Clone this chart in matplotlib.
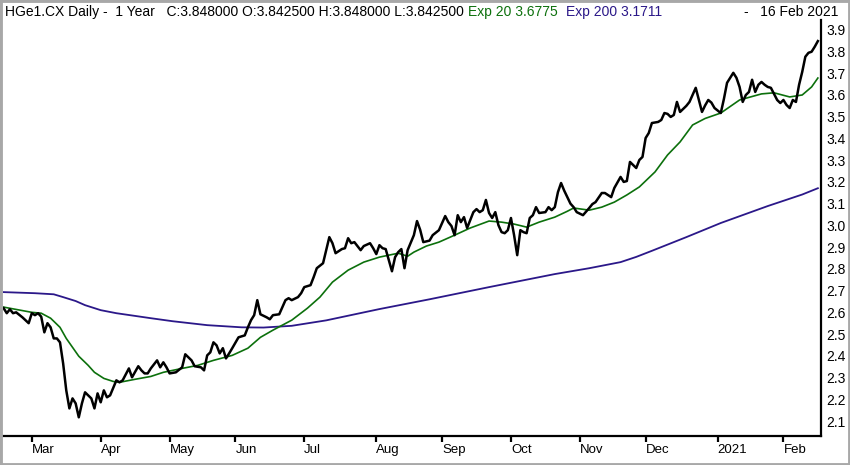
import pandas as pd
import matplotlib
matplotlib.use("Agg")
import matplotlib.pyplot as plt
from matplotlib.patches import Rectangle

# trading days shown on the chart (1 year ending 16 Feb 2021)
start_date = "2020-02-18"
end_date = "2021-02-16"

# daily close (day = trading-day number from start)
close_day = [0, 1, 2, 3, 4, 6, 8, 9, 10, 11,
             12, 13, 14, 15, 16, 17, 18, 19, 20, 21,
             22, 23, 24, 25, 26, 28, 29, 30, 31, 32,
             33, 34, 36, 37, 38, 40, 41, 43, 44, 45,
             46, 47, 49, 50, 51, 52, 53, 55, 57, 58,
             60, 61, 63, 64, 65, 66, 67, 68, 69, 70,
             71, 72, 73, 75, 77, 78, 79, 80, 81, 82,
             84, 85, 86, 88, 89, 90, 91, 92, 94, 95,
             96, 98, 99, 100, 102, 103, 104, 105, 106, 108,
             109, 110, 111, 112, 114, 115, 117, 118, 119, 120,
             121, 122, 124, 125, 126, 127, 128, 129, 131, 132,
             133, 134, 136, 137, 139, 141, 142, 143, 144, 145,
             146, 147, 148, 150, 151, 152, 153, 154, 155, 156,
             157, 158, 159, 160, 161, 162, 163, 164, 165, 166,
             167, 168, 169, 170, 171, 173, 174, 175, 176, 177,
             178, 179, 181, 182, 183, 185, 187, 188, 189, 191,
             192, 194, 195, 197, 198, 199, 200, 202, 203, 204,
             205, 206, 207, 209, 210, 211, 212, 213, 214, 215,
             216, 217, 218, 219, 221, 222, 223, 224, 225, 226,
             227, 229, 230, 231, 232, 233, 234, 235, 236, 237,
             238, 239, 240, 241, 242, 243, 244, 245, 247, 248,
             249, 250, 251, 252, 253, 254, 255, 256, 257, 258,
             259, 260]
close_px = [2.619, 2.596, 2.614, 2.596, 2.600, 2.577, 2.550, 2.596, 2.587, 2.596,
            2.580, 2.508, 2.550, 2.531, 2.480, 2.480, 2.462, 2.365, 2.241, 2.158,
            2.204, 2.181, 2.117, 2.181, 2.232, 2.204, 2.158, 2.227, 2.186, 2.241,
            2.209, 2.218, 2.287, 2.278, 2.287, 2.342, 2.301, 2.352, 2.333, 2.319,
            2.319, 2.342, 2.379, 2.347, 2.370, 2.347, 2.319, 2.324, 2.347, 2.407,
            2.379, 2.352, 2.347, 2.333, 2.402, 2.416, 2.462, 2.448, 2.411, 2.435,
            2.388, 2.411, 2.435, 2.485, 2.494, 2.531, 2.564, 2.587, 2.656, 2.591,
            2.577, 2.568, 2.587, 2.591, 2.624, 2.656, 2.665, 2.656, 2.670, 2.688,
            2.716, 2.725, 2.762, 2.803, 2.826, 2.886, 2.946, 2.918, 2.872, 2.891,
            2.895, 2.941, 2.918, 2.923, 2.886, 2.905, 2.918, 2.895, 2.868, 2.909,
            2.895, 2.891, 2.789, 2.854, 2.877, 2.891, 2.803, 2.886, 2.955, 3.020,
            2.980, 2.923, 2.930, 2.955, 2.978, 3.043, 3.015, 2.997, 2.955, 3.047,
            3.015, 3.038, 2.988, 3.061, 3.075, 3.061, 3.070, 3.117, 3.057, 3.034,
            3.061, 3.001, 2.969, 2.964, 2.978, 3.034, 2.955, 2.863, 2.978, 2.969,
            2.964, 3.034, 3.047, 3.084, 3.057, 3.061, 3.084, 3.070, 3.084, 3.153,
            3.195, 3.160, 3.100, 3.084, 3.061, 3.047, 3.080, 3.098, 3.107, 3.149,
            3.149, 3.130, 3.172, 3.223, 3.200, 3.204, 3.292, 3.264, 3.301, 3.315,
            3.402, 3.425, 3.471, 3.476, 3.485, 3.517, 3.513, 3.499, 3.508, 3.568,
            3.522, 3.536, 3.550, 3.568, 3.633, 3.577, 3.522, 3.552, 3.577, 3.565,
            3.540, 3.517, 3.582, 3.656, 3.679, 3.702, 3.679, 3.637, 3.568, 3.600,
            3.614, 3.670, 3.614, 3.647, 3.660, 3.647, 3.637, 3.633, 3.577, 3.563,
            3.577, 3.554, 3.540, 3.577, 3.568, 3.647, 3.706, 3.776, 3.794, 3.799,
            3.822, 3.848]

# Exp 20 (green)
ema20_day = [0, 9, 12, 15, 18, 20, 22, 24, 27, 29, 32, 35, 37, 42, 47, 51, 57, 62,
             67, 73, 78, 82, 86, 92, 97, 101, 105, 110, 115, 120, 126, 129, 131,
             135, 139, 144, 149, 155, 159, 163, 167, 171, 176, 180, 182, 187, 191,
             195, 199, 203, 208, 212, 216, 220, 224, 229, 235, 242, 246, 251, 255,
             258, 260]
ema20_px = [2.624, 2.600, 2.596, 2.573, 2.531, 2.480, 2.439, 2.398, 2.356, 2.324,
            2.296, 2.282, 2.278, 2.292, 2.305, 2.324, 2.342, 2.356, 2.379, 2.402,
            2.435, 2.485, 2.518, 2.564, 2.619, 2.670, 2.739, 2.794, 2.831, 2.854,
            2.872, 2.858, 2.877, 2.905, 2.923, 2.955, 2.988, 3.020, 3.015, 3.006,
            2.992, 3.015, 3.038, 3.065, 3.080, 3.070, 3.084, 3.107, 3.140, 3.177,
            3.246, 3.324, 3.384, 3.462, 3.492, 3.517, 3.577, 3.605, 3.610, 3.591,
            3.600, 3.637, 3.678]

# Exp 200 (purple)
ema200_day = [0, 10, 16, 19, 23, 26, 31, 36, 47, 54, 65, 76, 83, 92, 103, 120,
              136, 155, 176, 187, 197, 202, 207, 218, 229, 244, 255, 260]
ema200_px = [2.693, 2.688, 2.683, 2.670, 2.652, 2.633, 2.610, 2.596, 2.573, 2.559,
             2.541, 2.531, 2.530, 2.538, 2.563, 2.615, 2.660, 2.716, 2.776, 2.803,
             2.831, 2.855, 2.883, 2.946, 3.011, 3.089, 3.142, 3.171]

month_labels = ["Mar", "Apr", "May", "Jun", "Jul", "Aug", "Sep", "Oct",
                "Nov", "Dec", "2021", "Feb"]
y_ticks = [2.1, 2.2, 2.3, 2.4, 2.5, 2.6, 2.7, 2.8, 2.9, 3.0,
           3.1, 3.2, 3.3, 3.4, 3.5, 3.6, 3.7, 3.8, 3.9]

header_main = "HGe1.CX Daily -  1 Year   C:3.848000 O:3.842500 H:3.848000 L:3.842500"
header_exp20 = "Exp 20 3.6775"
header_exp200 = "Exp 200 3.1711"
header_date = "-   16 Feb 2021"

GREEN = "#0c700c"
PURPLE = "#2b1889"

W, H = 850, 465
fig = plt.figure(figsize=(W / 100, H / 100), dpi=100)
plt.rcParams["font.family"] = ["Liberation Sans", "DejaVu Sans"]
ax = fig.add_axes([3 / W, 1 - 436 / H, (821 - 3) / W, (436 - 20) / H])

ax.plot(ema200_day, ema200_px, color=PURPLE, lw=1.3)
ax.plot(ema20_day, ema20_px, color=GREEN, lw=1.2)
ax.plot(close_day, close_px, color="black", lw=1.8, solid_joinstyle="round")

# month ticks at the first trading day of each month
days = pd.bdate_range(start_date, end_date)
first = pd.Series(range(len(days)), index=days).groupby(days.to_period("M")).min()
tick_pos = list(first.values[1:])
ax.set_xticks(tick_pos)
ax.set_xticklabels(month_labels)
for lab in ax.get_xticklabels():
    lab.set_ha("left")
ax.tick_params(axis="x", direction="out", length=4.5, width=1.6, pad=1.5,
               labelsize=9.5, colors="black")

ax.yaxis.tick_right()
ax.set_yticks(y_ticks)
ax.set_yticklabels(["%.1f" % v for v in y_ticks])
ax.tick_params(axis="y", length=0, pad=4, labelsize=10)

ax.set_xlim(-0.2, 261)
ax.set_ylim(2.031, 3.945)

for side in ["top", "left"]:
    ax.spines[side].set_visible(False)
for side in ["bottom", "right"]:
    ax.spines[side].set_linewidth(1.6)
    ax.spines[side].set_color("black")

# header line
ty = 1 - 12 / H
fig.text(5 / W, ty, header_main, fontsize=10, va="center", ha="left")
fig.text(468 / W, ty, header_exp20, fontsize=10, va="center", ha="left", color=GREEN)
fig.text(566 / W, ty, header_exp200, fontsize=10, va="center", ha="left", color=PURPLE)
fig.text(838 / W, ty, header_date, fontsize=10, va="center", ha="right")

# grey frame round the whole picture
fig.patches.append(Rectangle((0, 0), 1, 1, transform=fig.transFigure, fill=False,
                             edgecolor="#a8a8a8", lw=3.5, zorder=10))

fig.savefig("out.png", dpi=100)
